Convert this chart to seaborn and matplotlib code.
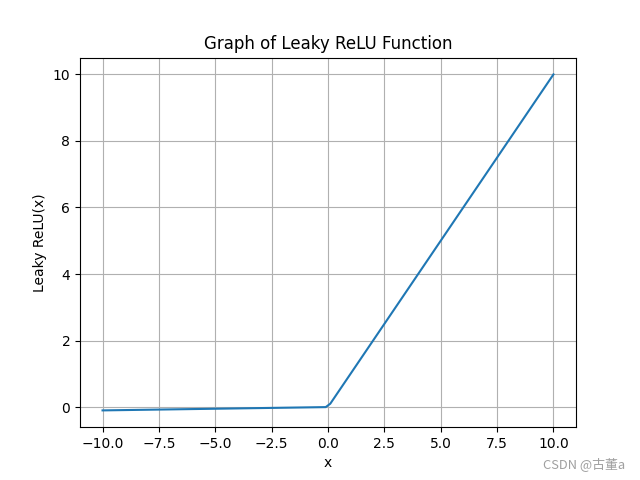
import matplotlib
matplotlib.use("Agg")
import matplotlib.pyplot as plt
import pandas as pd
import seaborn as sns

# Leaky ReLU curve (slope 0.01 on the left)
x_vals = [-10.0, -0.101, 0.101, 10.0]
y_vals = [-0.1, -0.001, 0.101, 10.0]

df = pd.DataFrame({"x": x_vals, "y": y_vals})

fig, ax = plt.subplots(figsize=(6.4, 4.8), dpi=100)
sns.lineplot(data=df, x="x", y="y", color="#1f77b4", ax=ax, sort=False)
ax.set_title("Graph of Leaky ReLU Function")
ax.set_xlabel("x")
ax.set_ylabel("Leaky ReLU(x)")
ax.grid(True)

# watermark
fig.text(0.977, 0.018, "CSDN @古董a", ha="right", va="bottom", fontsize=9.3,
         color="#a0a0a0", family=["Noto Sans CJK SC", "DejaVu Sans"])

fig.savefig("out.png", dpi=100)
